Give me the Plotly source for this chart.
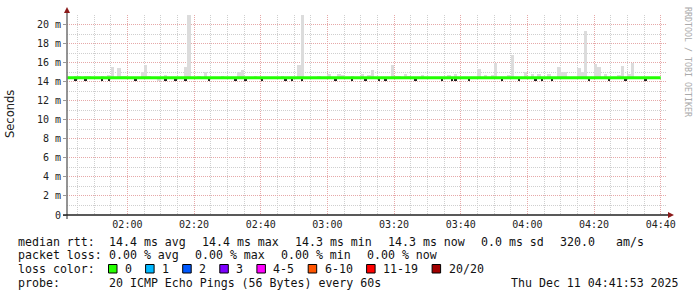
import datetime as dt
import plotly.graph_objects as go

# ---------------- data ----------------
start = dt.datetime(2025, 12, 11, 1, 42, 0)
range_start = dt.datetime(2025, 12, 11, 1, 41, 53)
range_end = dt.datetime(2025, 12, 11, 4, 41, 53)

# smoke (max rtt per minute, ms)
smoke_max = [
    14.45, 14.45, 14.6, 14.6, 14.45, 14.6, 14.6, 14.45, 14.45, 14.45, 14.6, 14.45, 14.7, 15.5, 14.45, 15.4, 14.6, 14.6, 14.45, 14.45,
    14.5, 14.45, 15.0, 15.7, 14.6, 14.45, 14.45, 14.45, 14.45, 14.7, 14.45, 14.45, 14.45, 14.45, 14.45, 15.5, 21.5, 14.45, 14.45, 14.6,
    14.45, 15.0, 14.45, 14.45, 14.5, 14.45, 14.6, 14.45, 14.45, 14.45, 14.45, 15.0, 15.2, 14.45, 14.45, 14.45, 14.6, 14.45, 14.45, 14.45,
    14.45, 14.45, 14.45, 14.45, 14.6, 14.45, 14.5, 14.45, 14.45, 15.8, 21.5, 14.45, 14.45, 14.5, 14.45, 14.6, 14.45, 14.45, 14.8, 14.45,
    14.45, 14.8, 14.7, 14.45, 14.45, 14.6, 14.45, 14.45, 14.8, 14.45, 14.7, 15.2, 14.45, 14.45, 14.45, 14.45, 14.45, 15.8, 14.6, 14.6,
    14.45, 14.8, 14.6, 14.45, 14.45, 14.45, 14.7, 14.45, 14.45, 14.45, 14.45, 14.45, 14.45, 14.45, 14.7, 14.45, 14.8, 14.45, 14.45, 14.45,
    14.45, 14.45, 14.45, 15.3, 14.45, 14.7, 14.45, 14.7, 16.0, 14.45, 14.45, 14.45, 14.7, 16.75, 14.45, 14.45, 14.45, 15.0, 14.45, 14.8,
    14.45, 14.8, 14.45, 14.45, 14.8, 14.45, 14.45, 15.5, 15.0, 15.0, 14.45, 14.45, 14.45, 15.4, 15.0, 19.3, 14.45, 14.45, 15.9, 15.5,
    14.45, 14.8, 14.45, 14.45, 14.45, 14.7, 15.6, 14.45, 14.8, 16.0, 14.45, 14.45, 14.45, 14.45, 14.45, 14.45, 14.5, 14.45,
]
smoke_min = [
    14.3, 14.3, 14.3, 14.3, 14.3, 14.3, 14.3, 14.3, 14.3, 14.3, 14.3, 14.3, 14.3, 14.3, 14.3, 14.3, 14.3, 14.3, 14.3, 14.3,
    14.3, 14.3, 14.3, 14.3, 14.3, 14.3, 14.3, 14.1, 14.3, 14.3, 14.3, 14.3, 14.3, 14.3, 14.3, 14.3, 14.3, 14.3, 14.3, 14.3,
    14.3, 14.3, 14.3, 14.3, 14.3, 14.3, 14.3, 14.3, 14.3, 14.3, 14.3, 14.3, 14.3, 14.3, 14.3, 14.3, 14.3, 14.3, 14.3, 14.3,
    14.3, 14.3, 14.3, 14.3, 14.3, 14.3, 14.3, 14.3, 14.3, 14.3, 14.3, 14.3, 14.3, 14.3, 14.3, 14.3, 14.3, 14.3, 14.3, 14.3,
    14.3, 14.3, 14.3, 14.3, 14.3, 14.3, 14.3, 14.3, 14.3, 14.3, 14.3, 14.3, 14.3, 14.3, 14.3, 14.3, 14.3, 14.3, 14.3, 14.3,
    14.3, 14.3, 14.3, 14.3, 14.3, 14.3, 14.3, 14.3, 14.3, 14.3, 14.3, 14.3, 14.3, 14.3, 14.3, 14.3, 14.3, 14.3, 14.3, 14.3,
    14.3, 14.3, 14.3, 14.3, 14.3, 14.3, 14.3, 14.3, 14.3, 14.3, 14.3, 14.3, 14.3, 14.3, 14.3, 14.3, 14.3, 14.3, 14.3, 14.3,
    14.3, 14.3, 14.3, 14.3, 14.3, 14.3, 14.3, 14.3, 14.3, 14.3, 14.3, 14.3, 14.3, 14.3, 14.3, 14.3, 14.3, 14.3, 14.3, 14.3,
    14.3, 14.3, 14.3, 14.3, 14.3, 14.3, 14.3, 14.3, 14.3, 14.3, 14.3, 14.3, 14.3, 14.3, 14.3, 14.3, 14.3, 14.3,
]
# median rtt per minute (ms)
median = [
    14.4, 14.4, 14.4, 14.4, 14.4, 14.4, 14.4, 14.4, 14.4, 14.4, 14.4, 14.4, 14.4, 14.4, 14.4, 14.4, 14.4, 14.4, 14.4, 14.4,
    14.4, 14.4, 14.4, 14.4, 14.4, 14.4, 14.4, 14.4, 14.4, 14.4, 14.4, 14.4, 14.4, 14.4, 14.4, 14.4, 14.4, 14.4, 14.4, 14.4,
    14.4, 14.4, 14.4, 14.4, 14.4, 14.4, 14.4, 14.4, 14.4, 14.4, 14.4, 14.4, 14.4, 14.4, 14.4, 14.4, 14.4, 14.4, 14.4, 14.4,
    14.4, 14.4, 14.4, 14.4, 14.4, 14.4, 14.4, 14.4, 14.4, 14.4, 14.4, 14.4, 14.4, 14.4, 14.4, 14.4, 14.4, 14.4, 14.4, 14.4,
    14.4, 14.4, 14.4, 14.4, 14.4, 14.4, 14.4, 14.4, 14.4, 14.4, 14.4, 14.4, 14.4, 14.4, 14.4, 14.4, 14.4, 14.4, 14.4, 14.4,
    14.4, 14.4, 14.4, 14.4, 14.4, 14.4, 14.4, 14.4, 14.4, 14.4, 14.4, 14.4, 14.4, 14.4, 14.4, 14.4, 14.4, 14.4, 14.4, 14.4,
    14.4, 14.4, 14.4, 14.4, 14.4, 14.4, 14.4, 14.4, 14.4, 14.4, 14.4, 14.4, 14.4, 14.4, 14.4, 14.4, 14.4, 14.4, 14.4, 14.4,
    14.4, 14.4, 14.4, 14.4, 14.4, 14.4, 14.4, 14.4, 14.4, 14.4, 14.4, 14.4, 14.4, 14.4, 14.4, 14.4, 14.4, 14.4, 14.4, 14.4,
    14.4, 14.4, 14.4, 14.4, 14.4, 14.4, 14.4, 14.4, 14.4, 14.4, 14.4, 14.4, 14.4, 14.4, 14.4, 14.4, 14.4, 14.4,
]
# minutes where the darker low edge shows below the median line
dip_minutes = [2, 5, 10, 12, 20, 29, 32, 35, 42, 50, 53, 58, 65, 67, 70, 80, 85, 89, 93, 95,
               104, 112, 115, 116, 120, 130, 135, 140, 142, 145, 156, 162, 167, 173]

y_tick_vals = [0, 2, 4, 6, 8, 10, 12, 14, 16, 18, 20]
y_tick_text = ["0", "2 m", "4 m", "6 m", "8 m", "10 m", "12 m", "14 m", "16 m", "18 m", "20 m"]

rtt_items = ["median rtt:", "14.4 ms avg", "14.4 ms max", "14.3 ms min", "14.3 ms now", "0.0 ms sd", "320.0", "am/s"]
loss_items = ["packet loss:", "0.00 % avg", "0.00 % max", "0.00 % min", "0.00 % now"]
loss_labels = ["0", "1", "2", "3", "4-5", "6-10", "11-19", "20/20"]
loss_colors = ["#26ff00", "#00b8ff", "#0059ff", "#7e00ff", "#ff00ff", "#ff5500", "#ff0000", "#a10000"]
probe_items = ["probe:", "20 ICMP Echo Pings (56 Bytes) every 60s"]
date_text = "Thu Dec 11 04:41:53 2025"
watermark = "RRDTOOL / TOBI OETIKER"

# ---------------- geometry helpers ----------------
W, H = 697, 297
L, R, T, B = 67, 667, 15, 215

def px(x):
    return (x - L) / (R - L)

def py(y):
    return (B - y) / (B - T)

MONO = "DejaVu Sans Mono"
minute = dt.timedelta(minutes=1)
n = len(smoke_max)
centers = [start + minute * i + minute / 2 for i in range(n)]
starts = [start + minute * i for i in range(len(median))]

fig = go.Figure()

fig.add_trace(go.Bar(
    x=centers, y=[mx - mn for mx, mn in zip(smoke_max, smoke_min)], base=smoke_min,
    width=60000, marker=dict(color="#dcdcdc", line=dict(width=0)), hoverinfo="skip",
))
fig.add_trace(go.Bar(
    x=[start + minute * i + minute / 2 for i in dip_minutes],
    y=[0.1] * len(dip_minutes), base=[14.15] * len(dip_minutes),
    width=30000, marker=dict(color="#222222", line=dict(width=0)), hoverinfo="skip",
))
fig.add_trace(go.Scatter(
    x=starts + [start + minute * len(median)], y=median + [median[-1]],
    mode="lines", line=dict(color="#22ff00", width=3, shape="hv"), hoverinfo="skip",
))

fig.update_layout(
    width=W, height=H, margin=dict(l=L, r=W - R, t=T, b=H - B),
    paper_bgcolor="white", plot_bgcolor="white", showlegend=False, barmode="overlay",
    bargap=0,
    xaxis=dict(
        type="date", range=[range_start, range_end],
        tick0=dt.datetime(2025, 12, 11, 2, 0), dtick=20 * 60 * 1000, tickformat="%H:%M",
        showgrid=True, gridcolor="#e6a8a8", griddash="1px,1px", gridwidth=1,
        minor=dict(dtick=5 * 60 * 1000, showgrid=True, gridcolor="#cfcfcf", griddash="1px,1px", gridwidth=1),
        showline=False, zeroline=False, ticks="", ticklabelstandoff=2,
        tickfont=dict(family=MONO, size=10, color="#222"),
    ),
    yaxis=dict(
        range=[0, 21], tickvals=y_tick_vals, ticktext=y_tick_text,
        showgrid=True, gridcolor="#e6a8a8", griddash="1px,1px", gridwidth=1,
        minor=dict(dtick=1, showgrid=True, gridcolor="#cfcfcf", griddash="1px,1px", gridwidth=1),
        showline=False, zeroline=False, ticks="outside", ticklen=3, tickcolor="#999",
        tickfont=dict(family=MONO, size=10, color="#222"),
    ),
)

shapes = []
# axes lines
shapes.append(dict(type="line", xref="paper", yref="paper", x0=px(L), x1=px(L), y0=py(219), y1=py(10),
                   line=dict(color="#707070", width=1.5)))
shapes.append(dict(type="line", xref="paper", yref="paper", x0=px(63), x1=px(669), y0=py(B), y1=py(B),
                   line=dict(color="#222222", width=1.5)))
# arrows
shapes.append(dict(type="path", xref="paper", yref="paper",
                   path=f"M {px(L-3)},{py(13)} L {px(L+3)},{py(13)} L {px(L)},{py(7)} Z",
                   fillcolor="#8b1a1a", line=dict(width=0)))
shapes.append(dict(type="path", xref="paper", yref="paper",
                   path=f"M {px(668)},{py(B-3)} L {px(668)},{py(B+3)} L {px(674)},{py(B)} Z",
                   fillcolor="#8b1a1a", line=dict(width=0)))

annotations = []
def text(x, y, s, anchor="left", size=11.6, color="#111", family=MONO, angle=0):
    annotations.append(dict(xref="paper", yref="paper", x=px(x), y=py(y), text=s.replace(" ", "&nbsp;"),
                            showarrow=False, xanchor=anchor, yanchor="middle", textangle=angle,
                            font=dict(family=family, size=size, color=color)))

text(10, 114, "Seconds", anchor="center", size=11.5, family="DejaVu Sans", angle=-90, color="#222")
annotations.append(dict(xref="paper", yref="paper", x=px(688), y=py(5), text=watermark.replace(" ", "&nbsp;"),
                        showarrow=False, xanchor="center", yanchor="top", textangle=90,
                        font=dict(family=MONO, size=8.3, color="#aaaaaa")))

# stats rows (rrdtool spaces legend items at fixed pitch)
rtt_x = [16, 107, 200, 293, 386, 479, 558, 614]
for s, x in zip(rtt_items, rtt_x):
    text(x, 241.5, s)
loss_x = [16, 107, 193, 279, 365]
for s, x in zip(loss_items, loss_x):
    text(x, 255, s)
text(16, 269.3, "loss color:")
text(16, 282.8, probe_items[0])
text(107, 282.8, probe_items[1])
text(681, 282.8, date_text, anchor="right")

# loss colour legend boxes
bx = 108.5
for lab, col in zip(loss_labels, loss_colors):
    shapes.append(dict(type="rect", xref="paper", yref="paper", x0=px(bx), x1=px(bx + 8.5),
                       y0=py(273), y1=py(264.5), fillcolor=col, line=dict(color="#000", width=1)))
    text(bx + 14.5, 269.3, lab)
    bx += 30 + 7.1 * len(lab)

fig.update_layout(shapes=shapes, annotations=annotations)
fig.write_html("out.html")
